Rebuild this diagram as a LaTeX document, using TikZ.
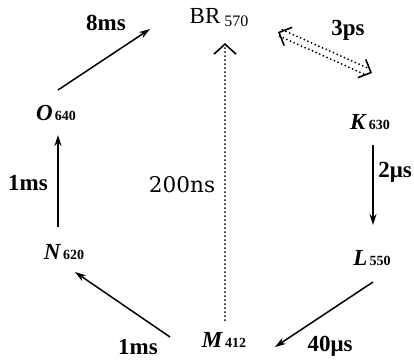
\documentclass[tikz,border=0pt]{standalone}
\usepackage{fontspec}
\setmainfont{Liberation Serif}
\newfontfamily\dvs{DejaVu Serif}
\usetikzlibrary{arrows.meta}
\newcommand{\statelbl}[2]{\textbf{\textit{#1}}\hspace{1pt}{\fontsize{7}{8}\selectfont\bfseries #2}}

\begin{document}
\begin{tikzpicture}[x=0.5pt,y=-0.5pt,
		stnode/.style={inner sep=0pt,font=\fontsize{11.5}{13}\selectfont},
		lbl/.style={inner sep=0pt,font=\fontsize{11.5}{13}\selectfont\bfseries},
		arr/.style={line width=0.75pt,-{Stealth[length=5.5pt,width=3.5pt]}},
		dots/.style={line width=1pt,line cap=round,dash pattern=on 0pt off 2pt},
		barb/.style={line width=0.8pt,line cap=butt,dash pattern=on 0pt off 500pt}]
	\useasboundingbox (0,0) rectangle (414,361);
	% photocycle intermediates
	\node[stnode] (BR) at (219,18) {BR\,\raisebox{-1.5pt}{\fontsize{8}{9}\selectfont 570}};
	\node[stnode] (K) at (370,122) {\statelbl{K}{630}};
	\node[stnode] (L) at (372,258) {\statelbl{L}{550}};
	\node[stnode] (M) at (224,340) {\statelbl{M}{412}};
	\node[stnode] (N) at (64,252) {\statelbl{N}{620}};
	\node[stnode] (O) at (56,113) {\statelbl{O}{640}};

	% transitions
	\draw[arr] ([shift={(2,-23)}]O.center) -- ([shift={(-69,11)}]BR.center);
	\draw[arr] ([shift={(-6,-25)}]N.center) -- ([shift={(2,22)}]O.center);
	\draw[arr] ([shift={(-54,-3)}]M.center) -- ([shift={(11,20)}]N.center);
	\draw[arr] ([shift={(1,24)}]L.center) -- ([shift={(51,7)}]M.center);
	\draw[arr] ([shift={(3,23)}]K.center) -- ([shift={(1,-33)}]L.center);
	\draw[dots,-{Straight Barb[length=5pt,width=11pt,line width=0.8pt]}] ([shift={(1,-20)}]M.center) -- ([shift={(6,25)}]BR.center);
	% back reaction, two dotted lines
	\draw[dots,transform canvas={xshift=-0.7pt,yshift=-1.6pt}] ([shift={(62,15)}]BR.center) -- ([shift={(-2,-50)}]K.center);
	\draw[dots,transform canvas={xshift=0.7pt,yshift=1.6pt}] ([shift={(62,15)}]BR.center) -- ([shift={(-2,-50)}]K.center);
	\draw[barb,{Straight Barb[length=5pt,width=10pt]}-{Straight Barb[length=5pt,width=10pt]}] ([shift={(59,14)}]BR.center) -- ([shift={(2,-49)}]K.center);

	% times
	\node[lbl] (t8ms) at (106,23) {8ms};
	\node[lbl] (t3ps) at (348,30) {3ps};
	\node[lbl,anchor=west] (t2us) at (378,172) {2μs};
	\node[lbl] (t40us) at (330,346) {40μs};
	\node[lbl] (t1msb) at (138,347) {1ms};
	\node[lbl] (t1msl) at (28,183) {1ms};
	\node[inner sep=0pt,font=\dvs\fontsize{10.8}{12}\selectfont] (t200ns) at (182,185) {200ns};
\end{tikzpicture}
\end{document}
